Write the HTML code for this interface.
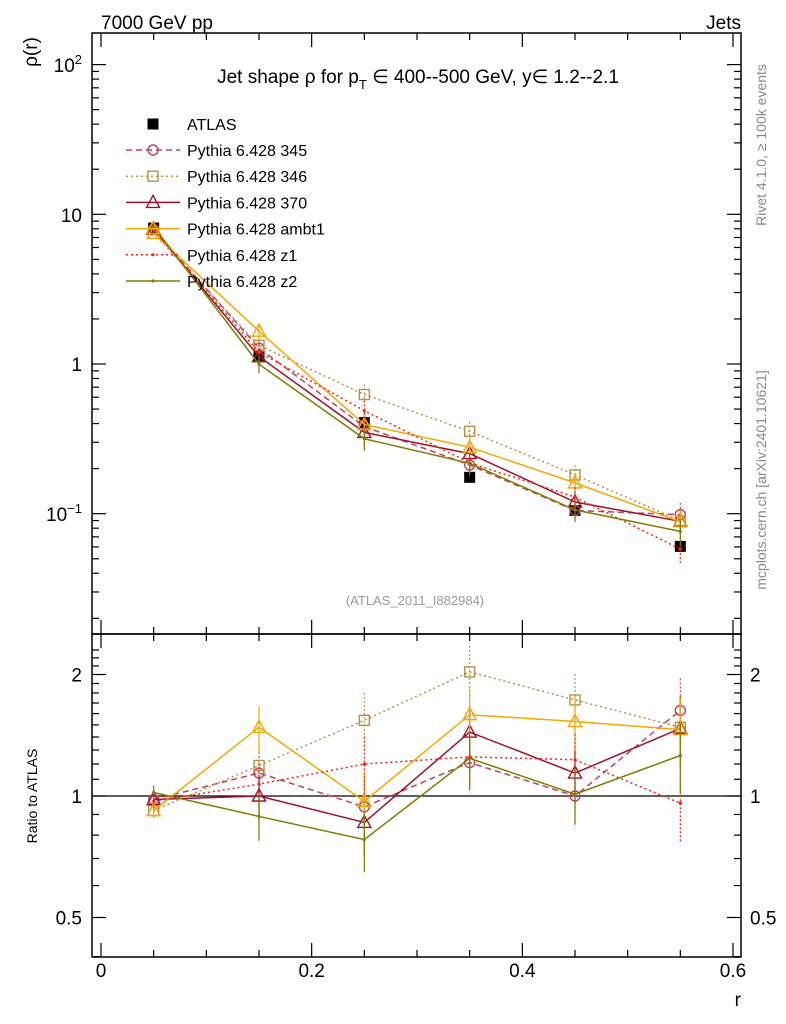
<!DOCTYPE html>
<html><head><meta charset="utf-8"><style>
body{margin:0;background:#fff}
svg{font-family:"Liberation Sans",sans-serif;display:block}
</style></head><body>
<svg id="c" width="786" height="1024" viewBox="0 0 786 1024">
<g id="frames"></g>
<g id="ticks"></g>
<g id="marks"></g>
<text x="101" y="29" font-size="19">7000 GeV pp</text>
<text x="741" y="29" font-size="19" text-anchor="end">Jets</text>
<text transform="translate(37,52) rotate(-90)" font-size="19" text-anchor="middle">ρ(r)</text>
<text x="418" y="83" font-size="19" text-anchor="middle">Jet shape ρ for p<tspan font-size="13" dy="6">T</tspan><tspan dy="-6"> ∈ 400--500 GeV, y∈ 1.2--2.1</tspan></text>
<text x="415" y="605" font-size="13" fill="#999" text-anchor="middle">(ATLAS_2011_I882984)</text>
<text transform="translate(766,145) rotate(-90)" font-size="14" fill="#888" text-anchor="middle">Rivet 4.1.0, ≥ 100k events</text>
<text transform="translate(766,480) rotate(-90)" font-size="14" fill="#888" text-anchor="middle">mcplots.cern.ch [arXiv:2401.10621]</text>
<text transform="translate(37,796) rotate(-90)" font-size="14" text-anchor="middle">Ratio to ATLAS</text>
<text x="741" y="1006" font-size="19" text-anchor="end">r</text>
<g id="legend"></g>
</svg>
<script>
const rValues=[0.05,0.15,0.25,0.35,0.45,0.55];
const atlasValues=[8.1,1.12,0.406,0.175,0.105,0.0605];
const ratio345=[0.98,1.14,0.94,1.21,1.0,1.63];
const ratio346=[0.92,1.19,1.54,2.03,1.73,1.48];
const ratio370=[0.98,1.0,0.86,1.44,1.14,1.47];
const ratioAmbt1=[0.92,1.48,0.97,1.59,1.53,1.46];
const ratioZ1=[0.97,1.07,1.2,1.25,1.23,0.96];
const ratioZ2=[1.02,0.89,0.78,1.24,1.01,1.26];
const relErr=[0.04,0.13,0.17,0.16,0.16,0.2];
const xTickLabels=["0","0.2","0.4","0.6"];
const ratioTickLabels=["0.5","1","2"];

const NS="http://www.w3.org/2000/svg";
const X0=92,X1=741,MT=33,MB=634,RT=634,RB=957;
const xs=v=>101+v*(733-101)/0.6;
const ys=v=>364-149.7*Math.log10(v);
const yr=v=>796-403.6*Math.log10(v);
function mk(parent,tag,attrs){const e=document.createElementNS(NS,tag);for(const k in attrs)e.setAttribute(k,attrs[k]);document.getElementById(parent).appendChild(e);return e;}

let f=mk('frames','rect',{x:X0,y:MT,width:X1-X0,height:MB-MT,fill:'none',stroke:'#000','stroke-width':1.5});


f=mk('frames','rect',{x:X0,y:RT,width:X1-X0,height:RB-RT,fill:'none',stroke:'#000','stroke-width':1.5});


let l1=mk('frames','line',{x1:X0,x2:X1,y1:yr(1),y2:yr(1),stroke:'#000','stroke-width':1.2});



function tk(x1,y1,x2,y2){const t=mk('ticks','line',{x1,y1,x2,y2,stroke:'#000','stroke-width':1.2});}
function lbl(x,y,s,anchor,size,name){const t=mk('ticks','text',{x,y,'font-size':size||19,'text-anchor':anchor||'middle'});t.textContent=s;return t;}
// x ticks
for(let i=0;i<=12;i++){const v=i*0.05,x=xs(v);if(x>X1)break;const maj=i%4==0;const L=maj?14:7;
 tk(x,MB,x,MB-L);tk(x,MT,x,MT+L);tk(x,RB,x,RB-L);tk(x,RT,x,RT+L);}
xTickLabels.forEach(s=>lbl(xs(+s),977,s,'middle',19,'x-tick-label'));
// main log ticks
for(let d=-2;d<=2;d++)for(let m=1;m<=9;m++){const v=m*Math.pow(10,d),y=ys(v);if(y<MT||y>MB)continue;const L=m==1?14:7;tk(X0,y,X0+L,y);tk(X1,y,X1-L,y);}
let t=lbl(82,72,'10','end',19,'y-tick-label');const s2=document.createElementNS(NS,'tspan');s2.setAttribute('dy','-8');s2.setAttribute('font-size','13');s2.textContent='2';t.appendChild(s2);
lbl(82,222,'10','end',19,'y-tick-label');
lbl(82,371,'1','end',19,'y-tick-label');
t=lbl(82,521,'10','end',19,'y-tick-label');const s3=document.createElementNS(NS,'tspan');s3.setAttribute('dy','-8');s3.setAttribute('font-size','13');s3.textContent='−1';t.appendChild(s3);
// ratio ticks
for(let v=0.4;v<=2.4;v+=0.1){const y=yr(v);if(y<RT||y>RB)continue;const maj=[0.5,1,2].some(m=>Math.abs(v-m)<1e-6);const L=maj?14:7;tk(X0,y,X0+L,y);tk(X1,y,X1-L,y);}
ratioTickLabels.forEach(s=>{lbl(82,yr(+s)+7,s,'end',19,'ratio-tick-label');lbl(750,yr(+s)+7,s,'start',19,'ratio-tick-label');});

const series=[
 {name:'pythia-345',label:'Pythia 6.428 345',r:ratio345,c:'#c0405a',dash:'6,4',m:'circle'},
 {name:'pythia-346',label:'Pythia 6.428 346',r:ratio346,c:'#b8904a',dash:'2,3',m:'square'},
 {name:'pythia-370',label:'Pythia 6.428 370',r:ratio370,c:'#a0102a',dash:'',m:'tri'},
 {name:'pythia-ambt1',label:'Pythia 6.428 ambt1',r:ratioAmbt1,c:'#f5a800',dash:'',m:'tri'},
 {name:'pythia-z1',label:'Pythia 6.428 z1',r:ratioZ1,c:'#ff2010',dash:'2,3',m:'dot'},
 {name:'pythia-z2',label:'Pythia 6.428 z2',r:ratioZ2,c:'#7d7d00',dash:'',m:'dot'}];

function marker(g,type,x,y,c,name){let e;
 if(type=='circle')e=mk(g,'circle',{cx:x,cy:y,r:5,fill:'none',stroke:c,'stroke-width':1.4});
 else if(type=='square')e=mk(g,'rect',{x:x-5,y:y-5,width:10,height:10,fill:'none',stroke:c,'stroke-width':1.4});
 else if(type=='tri')e=mk(g,'polygon',{points:`${x},${y-7} ${x-6.5},${y+5} ${x+6.5},${y+5}`,fill:'none',stroke:c,'stroke-width':1.4});
 else if(type=='fsq')e=mk(g,'rect',{x:x-5.5,y:y-5.5,width:11,height:11,fill:c});
 else e=mk(g,'circle',{cx:x,cy:y,r:1.6,fill:c});
 
 }

atlasValues.forEach((v,i)=>marker('marks','fsq',xs(rValues[i]),ys(v),'#000','atlas-point'));
series.forEach(s=>{
 const mv=s.r.map((r,i)=>r*atlasValues[i]);
 let p=mk('marks','polyline',{points:mv.map((v,i)=>xs(rValues[i])+','+ys(v)).join(' '),fill:'none',stroke:s.c,'stroke-width':1.5,'stroke-dasharray':s.dash});
 
 
 p=mk('marks','polyline',{points:s.r.map((v,i)=>xs(rValues[i])+','+yr(v)).join(' '),fill:'none',stroke:s.c,'stroke-width':1.5,'stroke-dasharray':s.dash});
 
 
 s.r.forEach((r,i)=>{const x=xs(rValues[i]);
  [[ys(mv[i]*(1+relErr[i])),ys(mv[i]*(1-relErr[i]))],[yr(r*(1+relErr[i])),yr(r*(1-relErr[i]))]].forEach(([a,b])=>{
   const e=mk('marks','line',{x1:x,x2:x,y1:a,y2:b,stroke:s.c,'stroke-width':1.2,'stroke-dasharray':s.dash?'2,2':''});
   
   
  });
  marker('marks',s.m,x,ys(mv[i]),s.c,s.name+'-point');
  marker('marks',s.m,x,yr(r),s.c,s.name+'-ratio-point');
 });
});
let ly=124;
marker('legend','fsq',153,ly,'#000','legend-atlas-marker');
let lt=mk('legend','text',{x:187,y:ly+6,'font-size':16});lt.textContent='ATLAS';


series.forEach((s,k)=>{const y=150+k*26.2;
 const ln=mk('legend','line',{x1:126,x2:180,y1:y,y2:y,stroke:s.c,'stroke-width':1.5,'stroke-dasharray':s.dash});
 
 
 marker('legend',s.m,153,y,s.c,'legend-marker');
 const tx=mk('legend','text',{x:187,y:y+6,'font-size':16});tx.textContent=s.label;
 
 
});
</script>
</body></html>
